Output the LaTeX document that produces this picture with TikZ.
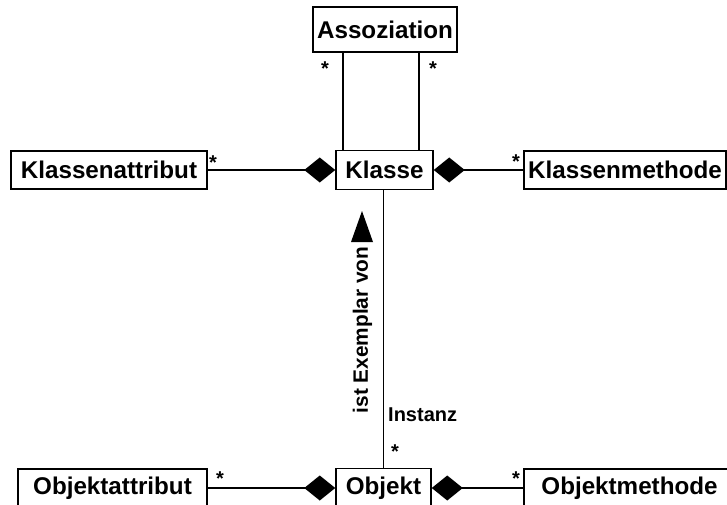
\documentclass[tikz,border=0pt]{standalone}
\usepackage{fontspec}
\setmainfont{Liberation Sans}
\usetikzlibrary{arrows.meta}
\begin{document}
\begin{tikzpicture}[x=1pt,y=-1pt,
  box/.style={draw, line width=1.5pt, inner sep=0pt, minimum height=38pt,
    font=\fontsize{24.2}{29}\selectfont\bfseries},
  lbl/.style={inner sep=0pt, font=\fontsize{20}{24}\selectfont\bfseries},
  conn/.style={line width=1.5pt},
  comp/.style={conn, -{Diamond[length=31pt,width=25pt]}}]
\useasboundingbox (0,0) rectangle (727,505);
\clip (0,0) rectangle (727,505);

% classes
\node[box, minimum width=144pt, minimum height=45pt] (assoc) at (385,29.5) {Assoziation};
\node[box, minimum width=97pt, minimum height=39pt] (klasse) at (384.5,170) {Klasse};
\node[box, minimum width=196pt] (kattr) at (109,170) {Klassenattribut};
\node[box, minimum width=202pt] (kmeth) at (625,170) {Klassenmethode};
\node[box, minimum width=95pt, minimum height=39pt] (objekt) at (383.5,488) {Objekt};
\node[box, minimum width=189pt] (oattr) at (112.5,488) {Objektattribut};
\node[box, minimum width=211pt] (ometh) at (629.5,488) {Objektmethode};

% association links
\draw[conn] ([xshift=-42pt]assoc.south) -- ([xshift=-42pt]assoc.south |- klasse.north);
\draw[conn] ([xshift=34pt]assoc.south) -- ([xshift=34pt]assoc.south |- klasse.north);

% compositions
\draw[comp] (kattr.east) -- (klasse.west);
\draw[comp] (kmeth.west) -- (klasse.east);
\draw[comp] (oattr.east) -- (objekt.west);
\draw[comp] (ometh.west) -- (objekt.east);

% instance relation
\draw[conn] (klasse.south -| objekt.north) -- (objekt.north);
\node[lbl, rotate=90, font=\fontsize{20.8}{25}\selectfont\bfseries] (exemplar) at (362.5,330) {ist Exemplar von};
\fill (362,211) -- (373,242) -- (351,242) -- cycle;
\node[lbl, anchor=north west] (instanz) at (388,408) {Instanz};

% multiplicities
\node[lbl, anchor=north] (m1) at (325,62) {*};
\node[lbl, anchor=north] (m2) at (433,62) {*};
\node[lbl, anchor=north] (m3) at (213,156) {*};
\node[lbl, anchor=north] (m4) at (516,155) {*};
\node[lbl, anchor=north] (m5) at (395,445) {*};
\node[lbl, anchor=north] (m6) at (220,472) {*};
\node[lbl, anchor=north] (m7) at (516,472) {*};
\end{tikzpicture}
\end{document}
